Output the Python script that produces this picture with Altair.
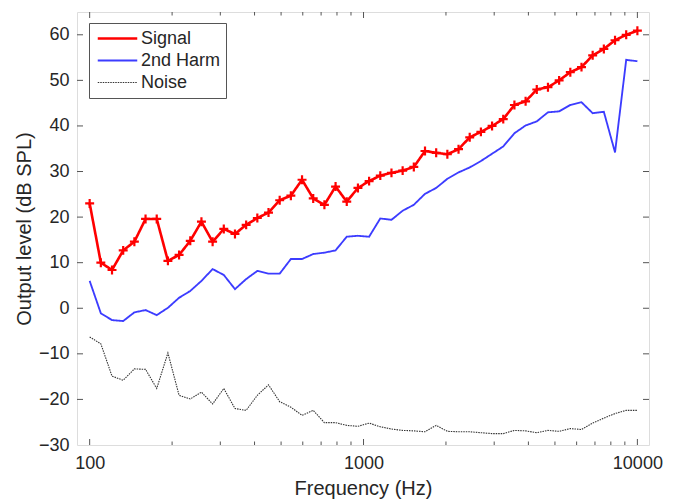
import altair as alt
import pandas as pd

freq = [100.0, 109.85, 120.68, 132.57, 145.63, 159.98, 175.75, 193.07, 212.09, 232.99,
        255.95, 281.17, 308.88, 339.32, 372.76, 409.49, 449.84, 494.17, 542.86, 596.36,
        655.13, 719.69, 790.60, 868.51, 954.10, 1048.11, 1151.40, 1264.86, 1389.50, 1526.42,
        1676.83, 1842.07, 2023.59, 2222.99, 2442.05, 2682.70, 2947.05, 3237.46, 3556.48, 3906.94,
        4291.93, 4714.87, 5179.47, 5689.87, 6250.55, 6866.49, 7543.12, 8286.43, 9102.98, 10000.0]

signal = [23.0, 10.0, 8.4, 12.7, 14.6, 19.6, 19.6, 10.4, 11.7, 14.8,
          19.0, 14.6, 17.4, 16.3, 18.3, 19.8, 21.0, 23.7, 24.7, 28.2,
          24.1, 22.7, 26.7, 23.4, 26.4, 27.9, 29.1, 29.7, 30.2, 31.0,
          34.5, 34.1, 33.8, 34.9, 37.5, 38.7, 40.0, 41.5, 44.6, 45.4,
          48.0, 48.5, 50.0, 51.8, 52.9, 55.5, 56.9, 58.8, 60.0, 60.9]

harm = [6.0, -1.1, -2.6, -2.8, -0.9, -0.4, -1.5, 0.1, 2.3, 3.8,
        6.0, 8.6, 7.3, 4.2, 6.4, 8.2, 7.6, 7.6, 10.8, 10.8,
        11.9, 12.2, 12.7, 15.7, 15.9, 15.7, 19.7, 19.4, 21.4, 22.7,
        25.1, 26.4, 28.4, 29.8, 30.9, 32.3, 33.9, 35.5, 38.4, 40.1,
        41.0, 43.0, 43.2, 44.6, 45.2, 42.8, 43.1, 34.2, 54.5, 54.2]

noise = [-6.3, -7.8, -14.9, -15.8, -13.3, -13.4, -17.6, -9.8, -19.1, -19.9,
         -18.4, -21.0, -17.6, -22.0, -22.4, -19.1, -16.8, -20.5, -21.7, -23.5,
         -22.4, -25.1, -25.1, -25.7, -25.9, -25.2, -26.0, -26.5, -26.8, -26.9,
         -27.1, -25.7, -27.0, -27.1, -27.1, -27.3, -27.5, -27.5, -26.8, -26.9,
         -27.3, -26.8, -27.0, -26.4, -26.6, -25.2, -24.1, -23.1, -22.4, -22.4]

series_names = ["Signal", "2nd Harm", "Noise"]
series_colors = ["#ff0000", "#3c3cff", "#333333"]

x_major = [100, 1000, 10000]
x_minor = [200, 300, 400, 500, 600, 700, 800, 900,
           2000, 3000, 4000, 5000, 6000, 7000, 8000, 9000]
y_ticks = [-20, -10, 0, 10, 20, 30, 40, 50, 60]

W, H = 572, 433
FONT = "Liberation Sans"
AX = "#555555"

rows = []
for name, vals in zip(series_names, [signal, harm, noise]):
    for f, v in zip(freq, vals):
        rows.append({"freq": f, "level": v, "series": name})
df = pd.DataFrame(rows)

xscale = alt.Scale(type="log", domain=[89.9, 11026], nice=False)
yscale = alt.Scale(domain=[-30, 65], nice=False, zero=False)

xenc = alt.X("freq:Q", scale=xscale,
             axis=alt.Axis(values=x_major, format="d", title="Frequency (Hz)",
                           tickSize=0, domain=False, grid=False, labelPadding=9,
                           labelFontSize=18, titleFontSize=20, titlePadding=6,
                           labelFont=FONT, titleFont=FONT, labelColor="#262626",
                           titleColor="#262626", titleFontWeight="normal",
                           labelFlush=False))
yenc = alt.Y("level:Q", scale=yscale,
             axis=alt.Axis(values=[-30, -20, -10, 0, 10, 20, 30, 40, 50, 60],
                           title="Output level (dB SPL)", tickSize=0, domain=False,
                           grid=False, labelPadding=8, labelFontSize=18, titleFontSize=20,
                           labelFont=FONT, titleFont=FONT, labelColor="#262626",
                           titleColor="#262626", titleFontWeight="normal", titlePadding=4))

lines = alt.Chart(df).mark_line(clip=True).encode(
    x=xenc,
    y=yenc,
    color=alt.Color("series:N", sort=series_names,
                    scale=alt.Scale(domain=series_names, range=series_colors),
                    legend=alt.Legend(title=None, orient="none", legendX=12, legendY=11,
                                      symbolType="stroke", symbolSize=1560,
                                      labelFont=FONT, labelFontSize=18, labelColor="#262626",
                                      strokeColor="#555555", fillColor="white", padding=5,
                                      clipHeight=21, rowPadding=1, labelOffset=2,
                                      symbolOffset=2, cornerRadius=0)),
    strokeDash=alt.StrokeDash("series:N", sort=series_names,
                              scale=alt.Scale(domain=series_names,
                                              range=[[1, 0], [1, 0], [1.5, 1]]),
                              legend=None),
    strokeWidth=alt.StrokeWidth("series:N", sort=series_names,
                                scale=alt.Scale(domain=series_names, range=[2.6, 1.1, 1.1]),
                                legend=None),
    order="freq:Q",
)

markers = alt.Chart(df[df.series == "Signal"]).mark_point(
    shape="M-1,0L1,0M0,-1L0,1", size=80, color="#ff0000", strokeWidth=2.2,
    filled=False, opacity=1
).encode(x="freq:Q", y="level:Q")

xmaj_df = pd.DataFrame({"t": x_major})
xmin_df = pd.DataFrame({"t": x_minor})
y_df = pd.DataFrame({"v": y_ticks})

def xticks(d, length):
    bot = alt.Chart(d).mark_rule(color=AX, strokeWidth=1).encode(
        x="t:Q", y=alt.value(H), y2=alt.value(H - length))
    top = alt.Chart(d).mark_rule(color=AX, strokeWidth=1).encode(
        x="t:Q", y=alt.value(0), y2=alt.value(length))
    return bot + top

yl = alt.Chart(y_df).mark_rule(color=AX, strokeWidth=1).encode(
    y="v:Q", x=alt.value(0), x2=alt.value(6))
yr = alt.Chart(y_df).mark_rule(color=AX, strokeWidth=1).encode(
    y="v:Q", x=alt.value(W), x2=alt.value(W - 6))

chart = alt.layer(
    xticks(xmaj_df, 6), xticks(xmin_df, 3.5), yl, yr, lines, markers
).properties(
    width=W, height=H,
    autosize=alt.AutoSizeParams(type="none"),
    padding={"left": 69, "top": 4, "right": 20, "bottom": 56},
).configure_view(stroke=AX, strokeWidth=1.2).configure(background="white")

chart.save("out.html", embed_options={"renderer": "svg", "actions": False})
